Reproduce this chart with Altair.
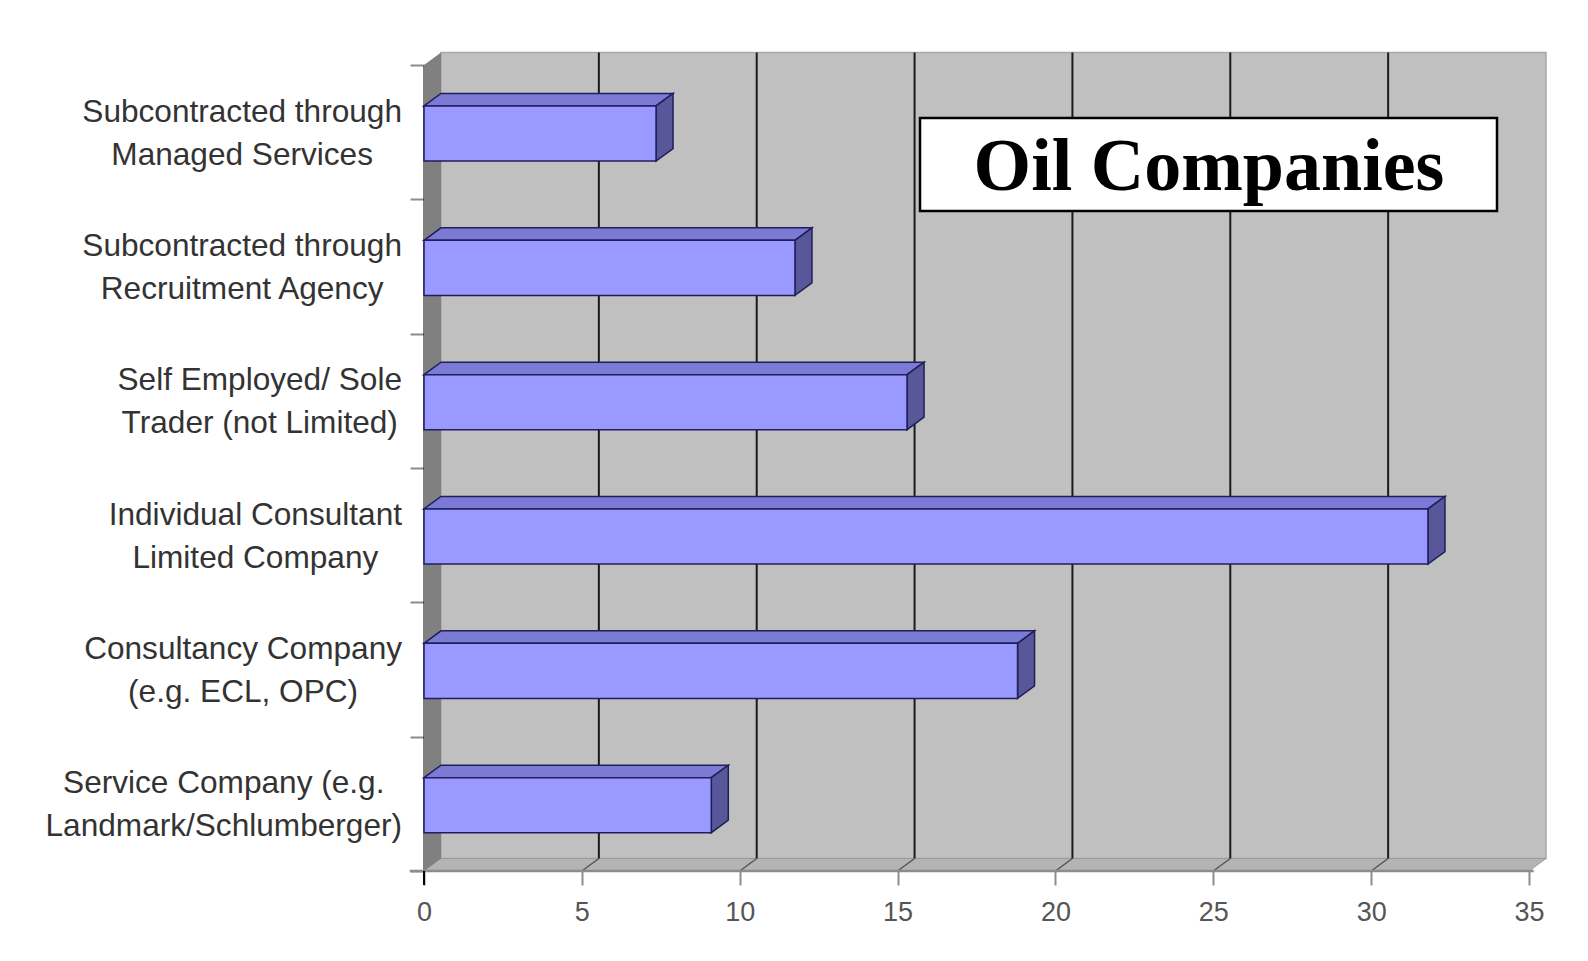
import altair as alt
import pandas as pd

# ---------------- data ----------------
categories = [
    "Subcontracted through\nManaged Services",
    "Subcontracted through\nRecruitment Agency",
    "Self Employed/ Sole\nTrader (not Limited)",
    "Individual Consultant\nLimited Company",
    "Consultancy Company\n(e.g. ECL, OPC)",
    "Service Company (e.g.\nLandmark/Schlumberger)",
]
values = [7.35, 11.75, 15.3, 31.8, 18.8, 9.1]
x_ticks = [0, 5, 10, 15, 20, 25, 30, 35]
title_text = "Oil Companies"

# ---------------- layout ----------------
W, H = 1105, 806
XMAX = 35
N = len(categories)
PX_X = W / XMAX          # pixels per x unit
PX_Y = H / N             # pixels per band
DX = 17 / PX_X           # 3-D depth, in x units
DY = 12.5 / PX_Y         # 3-D depth, in band units
BAR_TOP, BAR_BOT = 0.305, 0.715
LABEL_FS = 31.6
LINE_H = 43

# Helvetica/Arial advance widths (per 1000 em), to centre each two-line label
HW = {' ': 278, '(': 333, ')': 333, '.': 278, ',': 278, '/': 278,
      'A': 667, 'B': 667, 'C': 722, 'D': 722, 'E': 667, 'F': 611, 'G': 778, 'H': 722,
      'I': 278, 'L': 556, 'M': 833, 'O': 778, 'P': 667, 'R': 722, 'S': 667, 'T': 611,
      'a': 556, 'b': 556, 'c': 500, 'd': 556, 'e': 556, 'f': 278, 'g': 556, 'h': 556,
      'i': 222, 'j': 222, 'k': 500, 'l': 222, 'm': 833, 'n': 556, 'o': 556, 'p': 556,
      'r': 333, 's': 500, 't': 278, 'u': 556, 'v': 500, 'y': 500}


def text_w(s, fs):
    return sum(HW.get(c, 556) for c in s) * fs / 1000.0


xscale = alt.Scale(domain=[0, XMAX], nice=False, zero=False)
yscale = alt.Scale(domain=[0, N], reverse=True, nice=False, zero=False)
xaxis = alt.Axis(values=x_ticks, tickSize=14, tickColor="#8c8c8c", tickWidth=2,
                 domain=False, grid=False, labelFontSize=27, labelColor="#555555",
                 labelFont="Liberation Sans", labelPadding=14, labelFlush=False,
                 title=None)
yaxis = alt.Axis(values=list(range(N + 1)), tickSize=14, tickColor="#8c8c8c", tickWidth=2,
                 domainColor="#000000", domainWidth=2, labels=False, grid=False, title=None)


def X(f):
    return alt.X(f, scale=xscale, axis=xaxis)


def Y(f):
    return alt.Y(f, scale=yscale, axis=yaxis, stack=None)


# back wall
wall = pd.DataFrame([{"x": DX, "x2": XMAX + DX, "y": -DY, "y2": N - DY}])
wall_l = alt.Chart(wall).mark_rect(fill="#c0c0c0", stroke="#a8a8a8", strokeWidth=1.5).encode(
    x=X("x:Q"), x2="x2:Q", y=Y("y:Q"), y2="y2:Q")

# floor (parallelogram)
floor = pd.DataFrame([
    {"x": 0, "y": N, "y2": N},
    {"x": DX, "y": N - DY, "y2": N},
    {"x": XMAX, "y": N - DY, "y2": N},
    {"x": XMAX + DX, "y": N - DY, "y2": N - DY},
])
floor_l = alt.Chart(floor).mark_area(fill="#b4b4b4", stroke="#9a9a9a", strokeWidth=1).encode(
    x=X("x:Q"), y=Y("y:Q"), y2="y2:Q")

# left side wall
side = pd.DataFrame([
    {"x": 0, "y": 0, "y2": N},
    {"x": DX, "y": -DY, "y2": N - DY},
])
side_l = alt.Chart(side).mark_area(fill="#808080").encode(
    x=X("x:Q"), y=Y("y:Q"), y2="y2:Q")

# grid lines on back wall and their diagonal on the floor
grid = pd.DataFrame([{"t": t, "xb": t + DX, "yt": -DY, "yb": N - DY, "yf": N}
                     for t in x_ticks[1:-1]])
grid_l = alt.Chart(grid).mark_rule(color="#1a1a1a", strokeWidth=2).encode(
    x=X("xb:Q"), y=Y("yt:Q"), y2="yb:Q")
diag_l = alt.Chart(grid).mark_rule(color="#555555", strokeWidth=1.5).encode(
    x=X("xb:Q"), y=Y("yb:Q"), x2="t:Q", y2="yf:Q")

# front axis line and black zero tick
axl = pd.DataFrame([{"x": -0.45, "x2": XMAX + 0.15, "y": N}])
axl_l = alt.Chart(axl).mark_rule(color="#8c8c8c", strokeWidth=2.5).encode(
    x=X("x:Q"), x2="x2:Q", y=Y("y:Q"))
zt = pd.DataFrame([{"x": 0, "y": N}])
zt_l = alt.Chart(zt).mark_rule(color="#000000", strokeWidth=2).encode(
    x=X("x:Q"), y=Y("y:Q"), y2=alt.value(H + 14))

# bars
bars = pd.DataFrame([{"id": i, "x0": 0, "value": v,
                      "y0": i + BAR_TOP, "y1": i + BAR_BOT}
                     for i, v in enumerate(values)])
front_l = alt.Chart(bars).mark_rect(fill="#9999ff", stroke="#1f1f5c", strokeWidth=1.5).encode(
    x=X("x0:Q"), x2="value:Q", y=Y("y0:Q"), y2="y1:Q")

top_rows, side_rows = [], []
for i, v in enumerate(values):
    yt, yb = i + BAR_TOP, i + BAR_BOT
    top_rows += [
        {"id": i, "x": 0, "y": yt, "y2": yt},
        {"id": i, "x": DX, "y": yt - DY, "y2": yt},
        {"id": i, "x": v, "y": yt - DY, "y2": yt},
        {"id": i, "x": v + DX, "y": yt - DY, "y2": yt - DY},
    ]
    side_rows += [
        {"id": i, "x": v, "y": yt, "y2": yb},
        {"id": i, "x": v + DX, "y": yt - DY, "y2": yb - DY},
    ]
top_l = alt.Chart(pd.DataFrame(top_rows)).mark_area(
    fill="#7b7bd6", stroke="#1f1f5c", strokeWidth=1.5).encode(
    x=X("x:Q"), y=Y("y:Q"), y2="y2:Q", detail="id:N")
rside_l = alt.Chart(pd.DataFrame(side_rows)).mark_area(
    fill="#575799", stroke="#1f1f5c", strokeWidth=1.5).encode(
    x=X("x:Q"), y=Y("y:Q"), y2="y2:Q", detail="id:N")

# category labels (lines centred, block right edge 22px left of the axis)
lab_rows = []
for i, c in enumerate(categories):
    wmax = max(text_w(s, LABEL_FS) for s in c.split("\n"))
    lab_rows.append({"label": c, "cx": (-22 - wmax / 2) / PX_X, "yc": i + 0.5})
lab_l = alt.Chart(pd.DataFrame(lab_rows)).mark_text(
    align="center", baseline="middle", lineBreak="\n", lineHeight=LINE_H,
    dy=-LINE_H / 2 + 2,
    fontSize=LABEL_FS, font="Liberation Sans", color="#333333").encode(
    x=X("cx:Q"), y=Y("yc:Q"), text="label:N")

# title box
tb = pd.DataFrame([{"t": title_text}])
box_l = alt.Chart(tb).mark_rect(fill="white", stroke="black", strokeWidth=2.5).encode(
    x=alt.value(496), x2=alt.value(1073), y=alt.value(53), y2=alt.value(146))
ttl_l = alt.Chart(tb).mark_text(
    align="center", baseline="alphabetic", fontSize=74, fontWeight="bold",
    font="Liberation Serif", color="black").encode(
    x=alt.value(785), y=alt.value(125), text="t:N")

chart = alt.layer(
    wall_l, floor_l, side_l, grid_l, diag_l, axl_l, zt_l,
    top_l, rside_l, front_l, lab_l, box_l, ttl_l
).properties(
    width=W, height=H,
    autosize=alt.AutoSizeParams(type="none"),
    padding={"left": 416, "top": 57, "right": 50, "bottom": 80},
    background="white",
).configure_view(stroke=None)

chart.save("out.html", embed_options={"renderer": "svg", "actions": False})
